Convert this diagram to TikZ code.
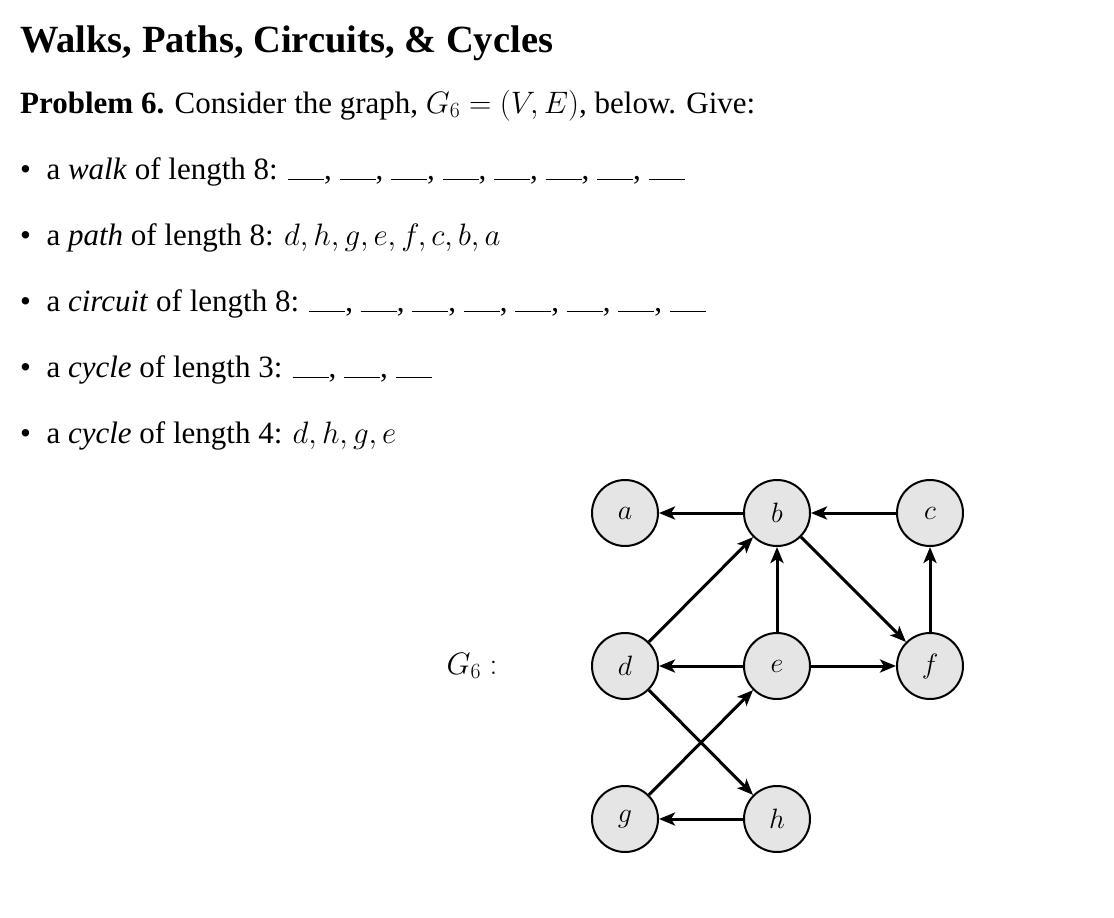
\documentclass[tikz,border=0pt]{standalone}
\usepackage{fix-cm}
\usepackage{fontspec}
\setmainfont{Liberation Serif}
\usetikzlibrary{arrows.meta}
\newcommand{\blk}{\rule[-1pt]{36pt}{1.4pt}}
\begin{document}
\begin{tikzpicture}[x=1pt,y=-1pt,
  vtx/.style={circle,draw,line width=2pt,fill=black!10,minimum size=66pt,inner sep=0pt,font=\fontsize{28}{30}\selectfont},
  arr/.style={line width=3pt,-{Stealth[length=16pt,width=13pt,inset=4pt]}},
  bul/.style={anchor=base west,inner sep=0pt,font=\fontsize{31}{36}\selectfont}]
\useasboundingbox (0,0) rectangle (1114,918);
\node[anchor=base west,inner sep=0pt,font=\fontsize{38.5}{42}\selectfont\bfseries] (title) at (20,52) {Walks, Paths, Circuits, \& Cycles};
\node[bul] (prob) at (20,113) {\textbf{Problem 6.} Consider the graph, $G_6=(V,E)$, below. Give:};
\node[bul] (b1) at (20,179) {\textbullet\ \ a \textit{walk} of length 8: \blk, \blk, \blk, \blk, \blk, \blk, \blk, \blk};
\node[bul] (b2) at (20,245) {\textbullet\ \ a \textit{path} of length 8: $d,h,g,e,f,c,b,a$};
\node[bul] (b3) at (20,311) {\textbullet\ \ a \textit{circuit} of length 8: \blk, \blk, \blk, \blk, \blk, \blk, \blk, \blk};
\node[bul] (b4) at (20,377) {\textbullet\ \ a \textit{cycle} of length 3: \blk, \blk, \blk};
\node[bul] (b5) at (20,443) {\textbullet\ \ a \textit{cycle} of length 4: $d,h,g,e$};
\node[font=\fontsize{31}{34}\selectfont] (lab) at (472,666) {$G_6:$};
\node[vtx] (a) at (625,513) {$a$};
\node[vtx] (b) at (777,513) {$b$};
\node[vtx] (c) at (930,513) {$c$};
\node[vtx] (d) at (625,666) {$d$};
\node[vtx] (e) at (777,666) {$e$};
\node[vtx] (f) at (930,666) {$f$};
\node[vtx] (g) at (625,819) {$g$};
\node[vtx] (h) at (777,819) {$h$};
\draw[arr] (b) -- (a);
\draw[arr] (c) -- (b);
\draw[arr] (b) -- (f);
\draw[arr] (d) -- (b);
\draw[arr] (e) -- (b);
\draw[arr] (f) -- (c);
\draw[arr] (e) -- (d);
\draw[arr] (e) -- (f);
\draw[arr] (d) -- (h);
\draw[arr] (g) -- (e);
\draw[arr] (h) -- (g);
\end{tikzpicture}
\end{document}
